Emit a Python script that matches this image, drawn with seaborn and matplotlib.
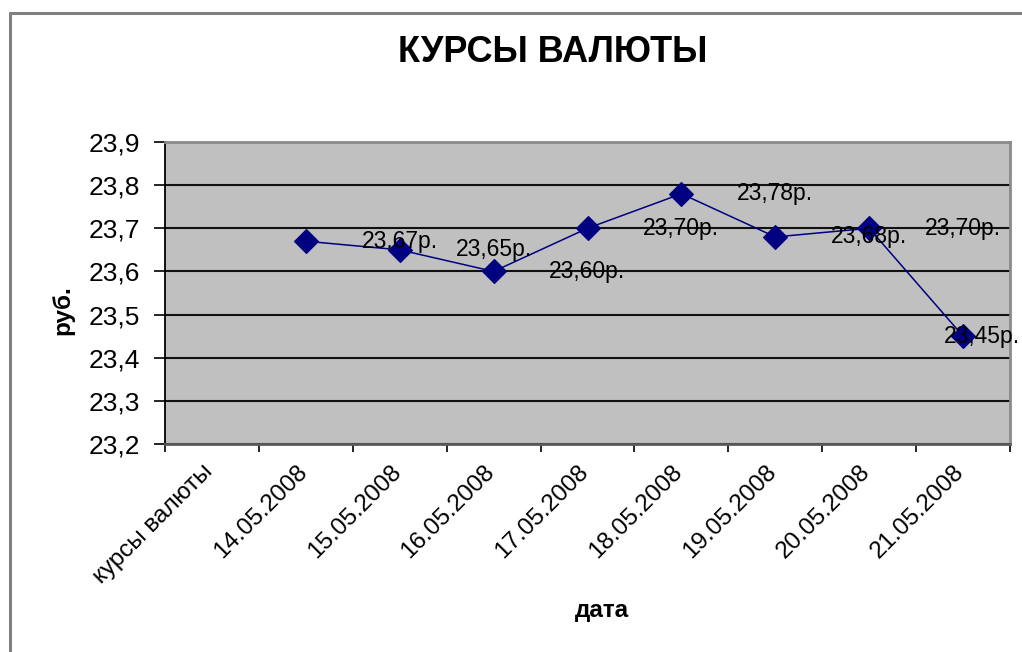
import matplotlib
matplotlib.use("Agg")
import matplotlib.pyplot as plt
from matplotlib.lines import Line2D
from matplotlib.ticker import FixedLocator
from matplotlib.transforms import ScaledTranslation
import seaborn as sns
import pandas as pd

categories = ["курсы валюты", "14.05.2008", "15.05.2008", "16.05.2008", "17.05.2008",
              "18.05.2008", "19.05.2008", "20.05.2008", "21.05.2008"]
dates = ["14.05.2008", "15.05.2008", "16.05.2008", "17.05.2008",
         "18.05.2008", "19.05.2008", "20.05.2008", "21.05.2008"]
rates = [23.67, 23.65, 23.60, 23.70, 23.78, 23.68, 23.70, 23.45]
y_ticks = [23.2, 23.3, 23.4, 23.5, 23.6, 23.7, 23.8, 23.9]

sns.set_theme(style="white")
plt.rcParams["font.family"] = ["Liberation Sans", "DejaVu Sans"]

W, H = 1022, 652
fig = plt.figure(figsize=(W / 100, H / 100), dpi=100)
fig.patch.set_facecolor("white")

ax = fig.add_axes([165 / W, 1 - 444 / H, (1010 - 165) / W, (444 - 142) / H])
ax.set_facecolor("#C0C0C0")

df = pd.DataFrame({"date": dates, "rate": rates})
sns.pointplot(data=df, x="date", y="rate", order=categories, ax=ax,
              color="#000080", markers="D", markersize=12.5, linewidth=1.1,
              errorbar=None, zorder=4)

ax.set_xlim(-0.5, len(categories) - 0.5)
ax.set_ylim(y_ticks[0], y_ticks[-1])
ax.yaxis.set_major_locator(FixedLocator(y_ticks))
ax.set_yticklabels([f"{t:.1f}".replace(".", ",") for t in y_ticks])
ax.yaxis.grid(True, color="#111111", linewidth=1.5)
ax.xaxis.grid(False)
ax.set_axisbelow(True)

# x labels at category centers, tick marks at category boundaries
ax.set_xticks(range(len(categories)))
ax.set_xticklabels(categories, rotation=45, ha="right", rotation_mode="anchor")
ax.xaxis.set_minor_locator(FixedLocator([i - 0.5 for i in range(len(categories) + 1)]))
ax.tick_params(axis="x", which="major", length=0, pad=20, labelsize=17.5, colors="black")
ax.tick_params(axis="x", which="minor", length=6, width=1.2, color="black", direction="out",
               bottom=True)
ax.tick_params(axis="y", which="major", length=8, width=1.2, color="black", direction="out",
               pad=10, labelsize=19, labelcolor="black", left=True)
shift = ScaledTranslation(-0.10, 0.11, fig.dpi_scale_trans)
for lab in ax.get_xticklabels():
    lab.set_transform(lab.get_transform() + shift)

ax.set_xlabel("")
ax.set_ylabel("")

for side in ["top", "right"]:
    ax.spines[side].set_color("#8a8a8a")
    ax.spines[side].set_linewidth(2)
ax.spines["left"].set_color("black")
ax.spines["left"].set_linewidth(1.3)
ax.spines["bottom"].set_color("#5a5a5a")
ax.spines["bottom"].set_linewidth(2)

# data labels (placed as in the reference: shifted one category to the right)
for d, v in zip(dates, rates):
    xpos = min(categories.index(d) + 1, len(categories) - 0.8)
    ax.text(xpos, v, f"{v:.2f}".replace(".", ",") + "р.", ha="center", va="center",
            fontsize=16.5, color="black", zorder=5, clip_on=False)

fig.text(553 / W, 1 - 53 / H, "КУРСЫ ВАЛЮТЫ", ha="center", va="center",
         fontsize=26, fontweight="bold", color="black")
fig.text(63 / W, 1 - 310 / H, "руб.", rotation=90, ha="center", va="center",
         fontsize=17.5, fontweight="bold", color="black")
fig.text(602 / W, 1 - 610 / H, "дата", ha="center", va="center",
         fontsize=17.5, fontweight="bold", color="black")

# outer chart-area frame (top and left edges visible)
fig.add_artist(Line2D([10 / W, 10 / W], [1 - 13 / H, -0.05], transform=fig.transFigure,
                      color="#808080", linewidth=2.2))
fig.add_artist(Line2D([10 / W, 1.05], [1 - 13 / H, 1 - 13 / H], transform=fig.transFigure,
                      color="#808080", linewidth=2.2))

fig.savefig("out.png", dpi=100, facecolor="white")
